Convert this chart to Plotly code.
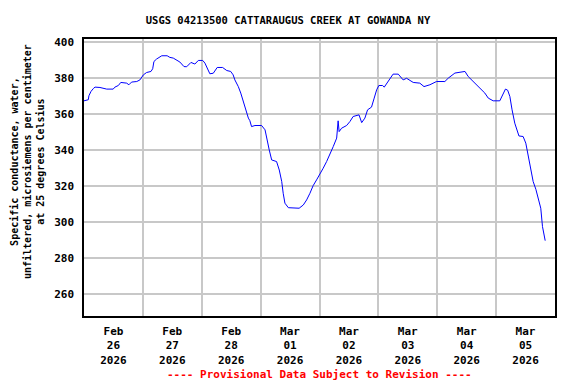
import pandas as pd
import plotly.graph_objects as go

# hours since 2026-02-26 00:00 and specific conductance values
hours = [0.0, 1.75, 2.0, 2.85, 3.8, 4.5, 6.5, 9.25, 11.9, 12.6, 14.0, 15.0, 17.4, 18.3, 19.4,
         21.5, 22.8, 24.2, 25.5, 27.3, 28.0, 28.5, 29.6, 31.7, 33.9, 35.0, 36.4, 37.8, 39.1,
         40.75, 41.85, 43.6, 45.2, 46.6, 48.4, 49.3, 50.65, 51.3, 52.7, 54.3, 56.5, 58.2,
         59.8, 60.8, 61.5, 62.9, 63.9, 64.7, 65.6, 66.3, 67.0, 67.6, 68.3, 69.7, 72.4, 73.8,
         74.5, 75.5, 76.5, 78.5, 79.6, 80.6, 81.2, 81.9, 83.3, 86.7, 87.7, 89.4, 90.75, 92.1,
         93.4, 94.8, 96.2, 97.5, 98.9, 100.2, 101.6, 103.0, 103.6, 104.0, 105.0, 107.05,
         108.4, 109.7, 112.1, 113.2, 114.5, 115.6, 117.2, 118.3, 119.3, 120.2, 121.7, 122.4,
         124.0, 126.0, 128.1, 130.1, 131.5, 132.8, 134.2, 136.9, 138.6, 141.0, 143.7, 147.1,
         148.5, 151.2, 153.2, 155.3, 156.6, 158.6, 161.4, 163.4, 164.8, 166.8, 169.5, 170.6,
         171.8, 172.7, 173.6, 174.5, 175.6, 177.3, 179.0, 180.1, 181.1, 182.2, 183.1, 184.2,
         185.1, 186.2, 186.9, 188.0]
values = [367.4, 368.0, 370.2, 372.6, 374.2, 375.0, 374.8, 373.9, 373.9, 375.0, 375.9, 377.6,
          377.2, 376.3, 377.8, 378.1, 379.0, 381.8, 383.1, 383.7, 385.2, 389.2, 390.6, 392.4,
          392.4, 391.5, 391.1, 390.2, 388.9, 386.4, 386.3, 388.7, 387.8, 389.8, 389.8, 388.3,
          383.7, 382.4, 382.7, 385.9, 385.9, 384.2, 383.7, 381.8, 379.0, 375.3, 371.7, 368.0,
          362.8, 360.6, 357.8, 356.4, 353.1, 353.7, 353.7, 351.3, 345.7, 340.2, 334.6, 333.7,
          329.0, 322.6, 316.1, 310.6, 308.1, 307.8, 307.8, 309.6, 312.4, 316.1, 320.3, 323.5,
          326.7, 330.0, 333.7, 337.4, 342.0, 346.7, 356.3, 350.3, 352.2, 353.7, 355.9, 358.7,
          359.6, 355.3, 357.8, 362.4, 363.9, 368.9, 373.5, 375.9, 375.9, 375.0, 378.1, 382.2,
          382.2, 379.0, 379.9, 379.0, 377.6, 377.2, 375.3, 376.3, 378.1, 378.1, 380.0, 382.8,
          383.3, 383.7, 380.9, 378.1, 374.4, 371.7, 368.9, 367.4, 367.4, 370.7, 373.9, 373.3,
          369.8, 362.4, 355.0, 347.9, 347.6, 343.9, 336.4, 329.0, 322.6, 318.3, 313.3, 307.8,
          297.6, 289.8]

start = pd.Timestamp("2026-02-26 00:00")
times = start + pd.to_timedelta(hours, unit="h")

day_starts = pd.date_range("2026-02-26", "2026-03-06", freq="D")
tick_pos = day_starts[:-1] + pd.Timedelta(hours=12)
tick_text = ["Feb<br>26<br>2026", "Feb<br>27<br>2026", "Feb<br>28<br>2026", "Mar<br>01<br>2026",
             "Mar<br>02<br>2026", "Mar<br>03<br>2026", "Mar<br>04<br>2026", "Mar<br>05<br>2026"]
y_ticks = [260, 280, 300, 320, 340, 360, 380, 400]

FONT = "DejaVu Sans Mono"
GRID = "#c8c8c8"

# page body has an 8px default margin, so the figure is 568x376 inside a 576x384 window
W, H = 568, 376

fig = go.Figure()
fig.add_trace(go.Scatter(x=times, y=values, mode="lines",
                         line=dict(color="#0000ff", width=1), hoverinfo="skip"))

fig.update_layout(
    width=W, height=H,
    margin=dict(l=76, r=21, t=31, b=68, autoexpand=False),
    paper_bgcolor="white", plot_bgcolor="white",
    showlegend=False,
    title=dict(text="USGS 04213500 CATTARAUGUS CREEK AT GOWANDA NY",
               font=dict(family=FONT, size=10.5, color="black", weight="bold"),
               x=(288 - 8) / W, xref="container", xanchor="center",
               y=1 - 12 / H, yref="container", yanchor="middle"),
    font=dict(family=FONT, color="black"),
)

fig.update_xaxes(
    range=[day_starts[0], day_starts[-1]],
    tickmode="array", tickvals=tick_pos, ticktext=tick_text,
    tickfont=dict(family=FONT, size=11, color="black", weight="bold"),
    showgrid=False, ticks="", ticklabelstandoff=4,
    showline=True, linecolor="black", linewidth=1.5, mirror=True,
    zeroline=False,
    minor=dict(tick0="2026-02-26", dtick=86400000, showgrid=True,
               gridcolor=GRID, gridwidth=1.5, ticks=""),
)
fig.update_yaxes(
    range=[248, 401.7],
    tickmode="array", tickvals=y_ticks,
    tickfont=dict(family=FONT, size=11, color="black", weight="bold"),
    showgrid=True, gridcolor=GRID, gridwidth=1.5, ticks="", ticklabelstandoff=6,
    showline=True, linecolor="black", linewidth=1.5, mirror=True,
    zeroline=False,
)

fig.add_annotation(
    text="Specific conductance, water,<br>unfiltered, microsiemens per centimeter<br>at 25 degrees Celsius",
    xref="paper", yref="paper", x=(27 - 84) / 471, y=(316 - 162) / 277,
    xanchor="center", yanchor="middle", textangle=-90, showarrow=False,
    font=dict(family=FONT, size=10, color="black", weight="bold"),
)
fig.add_annotation(
    text="---- Provisional Data Subject to Revision ----",
    xref="paper", yref="paper", x=0.5, y=-(374 - 316) / 277,
    xanchor="center", yanchor="middle", showarrow=False,
    font=dict(family=FONT, size=11, color="#ff0000", weight="bold"),
)

fig.write_html("out.html")
